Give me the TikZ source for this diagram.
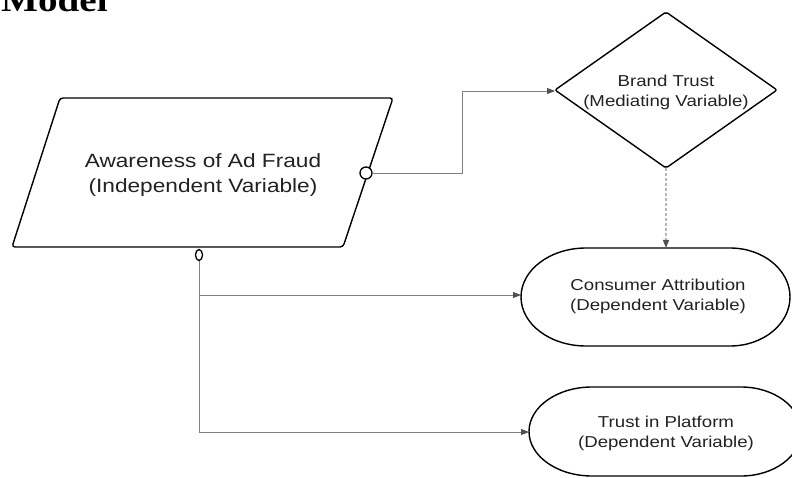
\documentclass[tikz,border=0pt]{standalone}
\usepackage{fontspec}
\setmainfont{Liberation Sans}
\newfontfamily\lblfont[FakeStretch=1.18]{Liberation Sans}
\newfontfamily\ttlfont[FakeStretch=1.15]{Liberation Serif}
\usetikzlibrary{arrows.meta}
\definecolor{connc}{HTML}{808080}
\definecolor{tipc}{HTML}{505050}
\definecolor{dashc}{HTML}{B8B8B8}
\definecolor{txtc}{HTML}{222222}
\tikzset{
  polyline/.style={draw=black, line width=1.4pt, line join=round, rounded corners=3pt},
  ovalline/.style={draw=black, line width=1.4pt},
  connline/.style={draw=connc, line width=0.9pt, -{Triangle[length=8pt,width=6pt,color=tipc]}},
  dashline/.style={draw=dashc, line width=1.3pt, dash pattern=on 3pt off 2pt, -{Triangle[length=8pt,width=6pt,color=tipc]}},
  bigtext/.style={text=txtc, align=center, inner sep=0pt, font=\lblfont\fontsize{19.2}{25}\selectfont},
  smalltext/.style={text=txtc, align=center, inner sep=0pt, font=\lblfont\fontsize{15.8}{20}\selectfont},
  port/.style={draw=black, fill=white, line width=1.3pt}
}
\begin{document}
\begin{tikzpicture}[x=1pt,y=-1pt]
\useasboundingbox (0,0) rectangle (792,478);

% title (cut off at the top)
\node[anchor=base west, inner sep=0pt, text=black, font=\ttlfont\bfseries\fontsize{34}{34}\selectfont] (title) at (1,12) {Model};

% parallelogram
\draw[polyline] (60,98) -- (393,98) -- (343,247) -- (12,247) -- cycle;
\node[bigtext] (aw) at (203,175) {Awareness of Ad Fraud\\(Independent Variable)};

% ports
\draw[port] (366,173) circle[radius=6];
\coordinate (clE) at (372,173);
\draw[port] (199,255) ellipse[x radius=3.5, y radius=5.5];
\coordinate (b0) at (199,261);

% diamond
\coordinate (dt) at (666,12);
\coordinate (dr) at (777,90);
\coordinate (db) at (666,168);
\coordinate (dl) at (555,91);
\draw[polyline, rounded corners=2pt] (dt) -- (dr) -- (db) -- (555,90) -- cycle;
\node[smalltext] (bt) at (666,92) {Brand Trust\\(Mediating Variable)};

% consumer attribution
\draw[ovalline] (586,248) -- (730,248)
  arc[start angle=-90, end angle=90, x radius=60, y radius=49]
  -- (586,346)
  arc[start angle=90, end angle=270, x radius=65, y radius=49] -- cycle;
\node[smalltext] (ca) at (658,296) {Consumer Attribution\\(Dependent Variable)};
\coordinate (caW) at (521,295);
\coordinate (caN) at (666,248);

% trust in platform
\draw[ovalline] (592,387) -- (741,387)
  arc[start angle=-90, end angle=90, x radius=60, y radius=44.5]
  -- (592,476)
  arc[start angle=90, end angle=270, x radius=63, y radius=44.5] -- cycle;
\node[smalltext] (tp) at (666,433) {Trust in Platform\\(Dependent Variable)};
\coordinate (tpW) at (529,432);

% connectors
\draw[connline] (clE) -- (462,173) |- (dl);
\draw[connline] (b0) |- (tpW);
\draw[connline] (199,295) -- (caW);
\draw[dashline] (db) -- (caN);
\end{tikzpicture}
\end{document}
